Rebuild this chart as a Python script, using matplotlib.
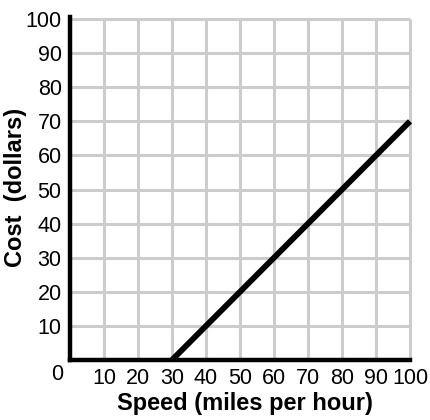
import matplotlib
matplotlib.use("Agg")
from matplotlib import pyplot as plt

# line of cost vs speed
speed = [30, 100]
cost = [0, 70]

x_ticks = [10, 20, 30, 40, 50, 60, 70, 80, 90, 100]
y_ticks = [10, 20, 30, 40, 50, 60, 70, 80, 90, 100]
grid_vals = [10, 20, 30, 40, 50, 60, 70, 80, 90, 100]

tick_font = ['Liberation Sans Narrow', 'Liberation Sans', 'DejaVu Sans']
label_font = ['Liberation Sans', 'DejaVu Sans']

fig = plt.figure(figsize=(4.31, 4.20), dpi=100)
ax = fig.add_axes([70 / 431, 60 / 420, 340 / 431, 341 / 420])
ax.set_xlim(0, 100)
ax.set_ylim(0, 100)

# светло-серая сетка, включая линии на 100
ax.vlines(grid_vals, 0, 100, color='#cccccc', linewidth=2.2, clip_on=False, zorder=1)
ax.hlines(grid_vals, 0, 100, color='#cccccc', linewidth=2.2, clip_on=False, zorder=1)

ax.plot(speed, cost, color='black', linewidth=4.2, solid_capstyle='butt', zorder=3, clip_on=False)

for side in ('top', 'right'):
    ax.spines[side].set_visible(False)
for side in ('left', 'bottom'):
    ax.spines[side].set_linewidth(3.2)
    ax.spines[side].set_color('black')
    ax.spines[side].set_zorder(4)
ax.spines['left'].set_bounds(0, 100.7)

ax.set_xticks(x_ticks)
ax.set_yticks(y_ticks)
ax.set_xticklabels([str(v) for v in x_ticks], family=tick_font, fontsize=15.5)
ax.set_yticklabels([str(v) for v in y_ticks], family=tick_font, fontsize=15.5)
ax.tick_params(length=0)
ax.tick_params(axis='x', pad=5.5)
ax.tick_params(axis='y', pad=6)

ax.text(-3.8, -4.2, '0', family=tick_font, fontsize=15.5, ha='center', va='center')

ax.set_xlabel('Speed (miles per hour)', family=label_font, fontsize=17,
              fontweight='bold')
ax.xaxis.set_label_coords(0.515, -0.093)
ax.set_ylabel('Cost  (dollars)', family=label_font, fontsize=17,
              fontweight='bold')
ax.yaxis.set_label_coords(-0.125, 0.505)

fig.savefig('out.png', dpi=100)
